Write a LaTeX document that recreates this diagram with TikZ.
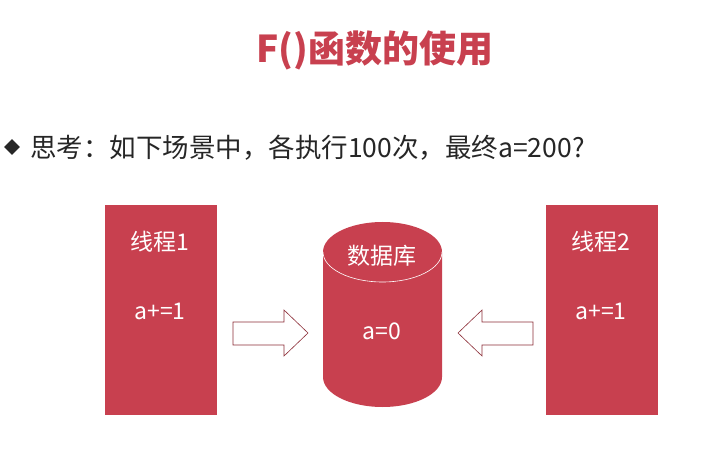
\documentclass[tikz,border=0pt]{standalone}
\usepackage{fontspec}
\setmainfont{Noto Sans CJK SC}
\definecolor{rd}{HTML}{C8404F}
\begin{document}
\begin{tikzpicture}[x=1pt,y=-1pt,
  wt/.style={text=white,font=\fontsize{23}{27}\selectfont,inner sep=0},
  box/.style={fill=rd,draw=none},
  arr/.style={draw=rd!70!black,line width=0.6pt,fill=white}]
\useasboundingbox (0,0) rectangle (718,457);
\node[text=rd,font=\fontsize{37}{44}\selectfont\bfseries] (title) at (375,50) {F()函数的使用};
\node[fill=black!85,inner sep=0,minimum size=11pt,rectangle,rotate=45] (dia) at (12,147) {};
\node[anchor=west,text=black!85,font=\fontsize{26.5}{31}\selectfont,inner sep=0] (q) at (30,148) {思考：如下场景中，各执行100次，最终a=200?};
\fill[box] (105,205) rectangle (217,415);
\fill[box] (546,205) rectangle (658,415);
\node[wt] (t1) at (160,242) {线程1};
\node[wt] (a1) at (160,311) {a+=1};
\node[wt] (t2) at (601,242) {线程2};
\node[wt] (a2) at (601,311) {a+=1};
% cylinder
\fill[rd] (323,252) -- (323,377) arc[start angle=180,end angle=0,x radius=59.5,y radius=30] -- (442,252) arc[start angle=0,end angle=-180,x radius=59.5,y radius=30] -- cycle;
\draw[white,line width=0.6pt] (323,252) arc[start angle=180,end angle=0,x radius=59.5,y radius=30];
\node[wt] (db) at (382,256) {数据库};
\node[wt] (a0) at (382,331) {a=0};
\draw[arr] (233,322) -- (284,322) -- (284,310) -- (308,333) -- (284,356) -- (284,345) -- (233,345) -- cycle;
\draw[arr] (533,322) -- (482,322) -- (482,310) -- (458,333) -- (482,356) -- (482,345) -- (533,345) -- cycle;
\end{tikzpicture}
\end{document}
